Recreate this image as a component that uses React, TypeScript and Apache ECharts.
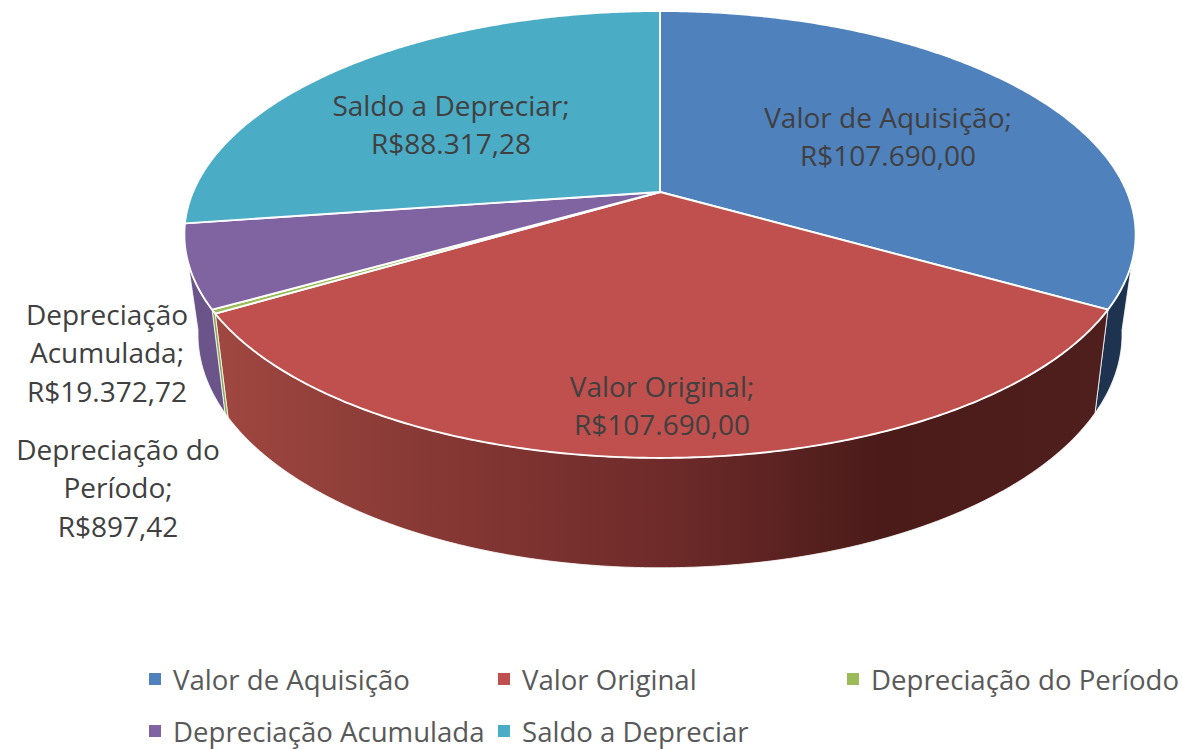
import React, { useEffect, useRef } from "react";
import * as echarts from "echarts";

const categories = ["Valor de Aquisição", "Valor Original", "Depreciação do Período", "Depreciação Acumulada", "Saldo a Depreciar"];
const values = [107690.0, 107690.0, 897.42, 19372.72, 88317.28];
const labelLines = [
  ["Valor de Aquisição;", "R$107.690,00"],
  ["Valor Original;", "R$107.690,00"],
  ["Depreciação do", "Período;", "R$897,42"],
  ["Depreciação", "Acumulada;", "R$19.372,72"],
  ["Saldo a Depreciar;", "R$88.317,28"],
];

const topColors = ["#4f81bd", "#c0504d", "#9bbb59", "#8064a2", "#4bacc6"];
const labelPos = [[888, 136], [662, 405], [118, 487], [107, 352], [451, 124]];
const legendPos = [[149, 665], [498, 665], [847, 665], [149, 717], [498, 717]];

const FONT = '"Open Sans", "Noto Sans", sans-serif';
const CX = 660;
const CY_TOP = 192;
const TOP = { d: 467, a: 215.4, c: 0.19, y0: CY_TOP };
const BOTTOM = { d: 453.6, a: 225, c: 0.19, y0: 290 };
const TOP_VISIBLE = [108, 252];
const BOTTOM_VISIBLE = [100, 260];

function project(p: typeof TOP, deg: number): number[] {
  const t = (deg * Math.PI) / 180;
  const u = Math.sin(t);
  const v = Math.cos(t);
  const den = p.c * v + 1;
  return [CX + (p.d * u) / den, p.y0 - (p.a * v) / den];
}

function arc(p: typeof TOP, from: number, to: number): number[][] {
  const n = Math.max(2, Math.ceil(Math.abs(to - from) / 0.5));
  const pts: number[][] = [];
  for (let i = 0; i <= n; i++) pts.push(project(p, from + ((to - from) * i) / n));
  return pts;
}

function wallFill(i: number): any {
  if (i === 1) {
    return new echarts.graphic.LinearGradient(0, 0, 1, 0, [
      { offset: 0, color: "#a04741" },
      { offset: 0.25, color: "#863834" },
      { offset: 0.5, color: "#6f2b2a" },
      { offset: 0.75, color: "#4a1b19" },
      { offset: 1, color: "#4f1f1d" },
    ]);
  }
  return ["#1d3350", "", "#8ba650", "#6a5489", ""][i];
}

function makeSeries(i: number, total: number, starts: number[]) {
  const a = (starts[i] / total) * 360;
  const b = ((starts[i] + values[i]) / total) * 360;
  return {
    type: "custom",
    name: categories[i],
    coordinateSystem: "none",
    silent: true,
    itemStyle: { color: topColors[i] },
    data: [[values[i]]],
    renderItem: () => {
      const children: any[] = [];
      const ta = Math.max(a, TOP_VISIBLE[0]);
      const tb = Math.min(b, TOP_VISIBLE[1]);
      const ba = Math.max(a, BOTTOM_VISIBLE[0]);
      const bb = Math.min(b, BOTTOM_VISIBLE[1]);
      if (tb > ta && bb > ba) {
        children.push({
          type: "polygon",
          shape: { points: [...arc(TOP, ta, tb), ...arc(BOTTOM, bb, ba)] },
          style: { fill: wallFill(i), stroke: "#ffffff", lineWidth: 0.8 },
        });
      }
      children.push({
        type: "polygon",
        shape: { points: [[CX, CY_TOP], ...arc(TOP, a, b)] },
        style: { fill: topColors[i], stroke: "#ffffff", lineWidth: 1.9, lineJoin: "round" },
      });
      return { type: "group", children };
    },
  };
}

export default function App() {
  const ref = useRef<HTMLDivElement>(null);
  useEffect(() => {
    const chart = echarts.init(ref.current!, undefined, { renderer: "svg" });
    const total = values.reduce((s, v) => s + v, 0);
    const starts: number[] = [];
    values.reduce((s, v, i) => {
      starts[i] = s;
      return s + v;
    }, 0);
    chart.setOption({
      animation: false,
      backgroundColor: "#ffffff",
      legend: categories.map((c, i) => ({
        data: [c],
        left: legendPos[i][0],
        top: legendPos[i][1],
        padding: 0,
        icon: "rect",
        itemWidth: 12,
        itemHeight: 12,
        selectedMode: false,
        textStyle: { fontFamily: FONT, fontSize: 27.6, lineHeight: 28, color: "#595959", padding: [0, 0, 0, 7] },
      })),
      series: categories.map((_, i) => makeSeries(i, total, starts)),
      graphic: labelLines.map((lines, i) => ({
        type: "text",
        z: 100,
        silent: true,
        x: labelPos[i][0],
        y: labelPos[i][1],
        style: {
          text: lines.join("\n"),
          fontFamily: FONT,
          fontSize: 28,
          lineHeight: 38.5,
          fill: "#404040",
          align: "center",
          verticalAlign: "middle",
        },
      })),
    });
    return () => chart.dispose();
  }, []);
  return <div ref={ref} style={{ position: "fixed", left: 0, top: 0, width: 1183, height: 749 }} />;
}
